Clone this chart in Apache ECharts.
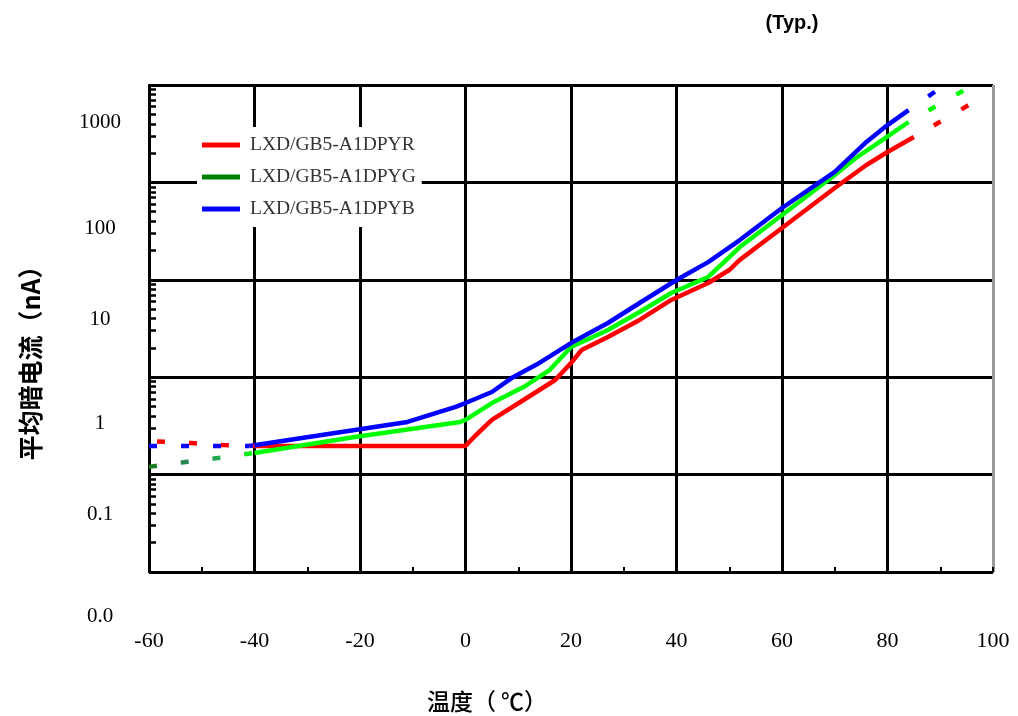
<!DOCTYPE html>
<html>
<head>
<meta charset="utf-8">
<script src="https://cdn.jsdelivr.net/npm/echarts@6/dist/echarts.min.js"></script>
<style>
  html, body { margin: 0; padding: 0; background: #fff; }
  #chart { width: 1018px; height: 716px; }
</style>
</head>
<body>
<div id="chart"></div>
<script>
// Average dark current (nA) versus temperature (°C), typical values
const seriesNames = ['LXD/GB5-A1DPYR', 'LXD/GB5-A1DPYG', 'LXD/GB5-A1DPYB'];
const lineColors = ['#ff0000', '#00ff00', '#0000ff'];
const legendColors = ['#ff0000', '#008000', '#0000ff'];

// Y tick texts for 0.01, 0.1, 1, 10, 100, 1000
const yTickLabels = ['0.0', '0.1', '1', '10', '100', '1000'];

// Measured range, solid lines
const redTemp    = [-40, 0, 2, 5, 11, 17, 20, 22, 27, 33, 39, 46, 50, 52, 60, 70, 76, 80, 85];
const redCurrent = [0.197, 0.197, 0.255, 0.364, 0.583, 0.936, 1.40, 1.90, 2.59, 3.87, 6.21, 9.27, 12.6, 16.0, 34.0, 87.7, 151, 205, 292];

const greenTemp    = [-40, -21, -1, 0, 5, 11, 16, 20, 27, 33, 39, 46, 49, 52, 60, 70, 74, 79, 84];
const greenCurrent = [0.167, 0.243, 0.347, 0.364, 0.543, 0.793, 1.19, 2.04, 3.05, 4.67, 7.31, 10.7, 15.2, 21.7, 46.2, 119, 178, 272, 417];

const blueTemp    = [-41, -21, -11, -2, 0, 5, 9, 14, 20, 27, 33, 40, 46, 52, 60, 70, 76, 80, 84];
const blueCurrent = [0.197, 0.287, 0.347, 0.494, 0.543, 0.705, 1.00, 1.40, 2.24, 3.60, 5.78, 9.95, 15.2, 25.6, 54.6, 128, 260, 388, 553];

// Extrapolated ends, dashed lines
const redLowTemp     = [-60, -52, -46, -40];
const redLowCurrent  = [0.221, 0.211, 0.201, 0.197];
const redHighTemp    = [85, 97];
const redHighCurrent = [292, 700];

const greenLowTemp     = [-60, -53, -47, -40];
const greenLowCurrent  = [0.120, 0.135, 0.148, 0.167];
const greenHighTemp    = [84, 90, 96];
const greenHighCurrent = [417, 643, 980];

const blueLowTemp     = [-60, -41];
const blueLowCurrent  = [0.197, 0.197];
const blueHighTemp    = [84, 90];
const blueHighCurrent = [553, 932];

const pairs = (xs, ys) => xs.map((x, i) => [x, ys[i]]);

function solid(idx, xs, ys) {
  return {
    name: seriesNames[idx], type: 'line', data: pairs(xs, ys),
    showSymbol: false, symbol: 'none', z: 3,
    lineStyle: { color: lineColors[idx], width: 4.5 },
    itemStyle: { color: lineColors[idx] }
  };
}
function dashed(idx, xs, ys, offset, color) {
  return {
    name: seriesNames[idx], type: 'line', data: pairs(xs, ys),
    showSymbol: false, symbol: 'none', z: 3,
    lineStyle: { color: color || lineColors[idx], width: 4.5, type: [8, 24], dashOffset: offset, cap: 'butt' },
    itemStyle: { color: lineColors[idx] }
  };
}

// label drop below each decade line
const labelDrop = [44, 40, 46, 40, 46, 37];
const richLabels = {};
labelDrop.forEach((d, i) => {
  richLabels['r' + i] = {
    fontFamily: 'Liberation Serif', fontSize: 21, color: '#000',
    padding: [2 * d, 0, 0, 0], align: 'center'
  };
});

const vGridColors = ['#000', '#000', '#000', '#000', '#000', '#000', '#000', '#000', '#9a9a9a'];

const chart = echarts.init(document.getElementById('chart'), null, { renderer: 'canvas' });
chart.setOption({
  animation: false,
  backgroundColor: '#fff',
  grid: { left: 149, right: 25, top: 85, bottom: 144, containLabel: false },
  legend: {
    orient: 'vertical', left: 197, top: 127,
    backgroundColor: '#fff', padding: [8, 6, 8, 5],
    itemWidth: 38, itemHeight: 5, itemGap: 12,
    icon: 'rect', selectedMode: false,
    textStyle: { fontFamily: 'Liberation Serif', fontSize: 19.5, color: '#333', padding: [0, 0, 0, 5] },
    data: seriesNames.map((n, i) => ({ name: n, itemStyle: { color: legendColors[i] } }))
  },
  xAxis: {
    type: 'value', min: -60, max: 100, interval: 20,
    axisLine: { show: true, onZero: false, lineStyle: { color: '#000', width: 2 } },
    axisTick: { show: true, inside: true, length: 5, lineStyle: { color: '#000', width: 2 } },
    minorTick: { show: true, splitNumber: 2, length: 5, lineStyle: { color: '#000', width: 2 } },
    splitLine: { show: true, lineStyle: { color: vGridColors, width: 3 } },
    axisLabel: { margin: 58, fontFamily: 'Liberation Serif', fontSize: 22, color: '#000' }
  },
  yAxis: {
    type: 'log', logBase: 10, min: 0.01, max: 1000,
    axisLine: { show: true, onZero: false, lineStyle: { color: '#000', width: 2 } },
    axisTick: { show: true, inside: true, length: 8, lineStyle: { color: '#000', width: 2.5 } },
    minorTick: { show: true, splitNumber: 9, length: 7, lineStyle: { color: '#000', width: 2.5 } },
    splitLine: { show: true, lineStyle: { color: '#000', width: 3 } },
    axisLabel: {
      margin: 49, showMinLabel: true, showMaxLabel: true,
      align: 'center',
      formatter: (v, i) => '{r' + i + '|' + yTickLabels[i] + '}',
      rich: richLabels
    }
  },
  graphic: [
    { type: 'text', x: 792, y: 23, style: { text: '(Typ.)', font: 'bold 20px "Liberation Sans"', fill: '#000', textAlign: 'center', textVerticalAlign: 'middle' } },
    { type: 'text', x: 30, y: 357, rotation: Math.PI / 2, style: { text: '平均暗电流（nA）', font: 'bold 25px "Noto Sans CJK SC"', fill: '#000', textAlign: 'center', textVerticalAlign: 'middle' } },
    { type: 'text', x: 487, y: 701, style: { text: '温度（ ℃）', font: '500 23px "Noto Sans CJK SC"', fill: '#000', textAlign: 'center', textVerticalAlign: 'middle' } }
  ],
  series: [
    solid(0, redTemp, redCurrent),
    solid(1, greenTemp, greenCurrent),
    solid(2, blueTemp, blueCurrent),
    dashed(0, redLowTemp, redLowCurrent, 24),
    dashed(1, greenLowTemp, greenLowCurrent, 0, {
      type: 'linear', x: 0, y: 0, x2: 1, y2: 0,
      colorStops: [{ offset: 0, color: '#1b7a1b' }, { offset: 0.5, color: '#2e8b6a' }, { offset: 1, color: '#00ff00' }]
    }),
    dashed(2, blueLowTemp, blueLowCurrent, 0),
    dashed(0, redHighTemp, redHighCurrent, 9),
    dashed(1, greenHighTemp, greenHighCurrent, 9),
    dashed(2, blueHighTemp, blueHighCurrent, 8)
  ]
});
</script>
</body>
</html>
